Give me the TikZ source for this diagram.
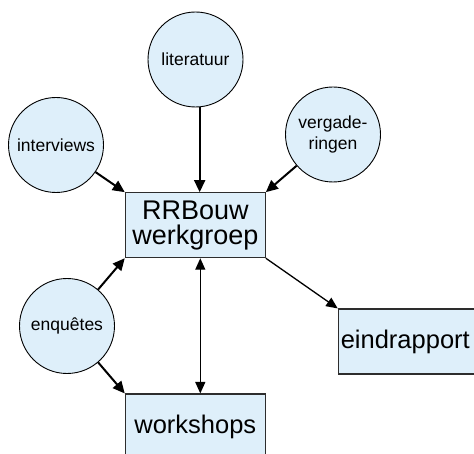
\documentclass[tikz,border=0pt]{standalone}
\usepackage{fontspec}
\setmainfont{Liberation Sans}
\usetikzlibrary{arrows.meta}

\definecolor{boxfill}{RGB}{222,239,250}
\definecolor{boxline}{RGB}{45,45,45}

\tikzset{
  source/.style={draw=black, line width=0.9pt, fill=boxfill, circle,
    minimum size=95pt, inner sep=0pt, align=center,
    font=\fontsize{17.5}{21}\selectfont},
  unit/.style={draw=boxline, line width=1.1pt, fill=boxfill,
    minimum width=140pt, minimum height=65pt, inner sep=0pt, align=center,
    font=\fontsize{25.5}{25}\selectfont},
  feed/.style={line width=2pt, -{Triangle[length=12pt,width=11pt]}},
  link/.style={line width=1.3pt, -{Triangle[length=11.5pt,width=10pt]}},
  twoway/.style={line width=1.3pt,
    {Triangle[length=11.5pt,width=10pt]}-{Triangle[length=11.5pt,width=10pt]}}
}

\begin{document}
\begin{tikzpicture}[x=1pt,y=-1pt]
\useasboundingbox (0,0) rectangle (474,454);
\clip (0,0) rectangle (474,454);

% Sources
\node [source] (lit) at (195.5,59.5) {literatuur};
\node [source] (int) at (56,145) {interviews};
\node [source] (verg) at (333,134.5) {vergade-\\ringen};
\node [source] (enq) at (67,326) {enquêtes};

% Working group
\node [unit,
    font=\fontsize{27}{25}\selectfont] (rr) at (195.3,225.2) {RRBouw\\werkgroep};

% Results
\node [unit] (eind) at (408.3,341.5) {\hspace*{-6pt}eindrapport};
\node [unit] (ws) at (195.3,426.5) {workshops};

% Connectors
\draw [feed] (lit.-85) -- (lit.-85 |- rr.north);
\draw [feed] (int) -- (rr.north west);
\draw [feed] (verg) -- (rr.north east);
\draw [feed] (enq) -- (rr.south west);
\draw [feed] (enq) -- (ws.north west);
\draw [twoway] ([xshift=5pt]rr.south) -- ([xshift=5pt]ws.north);
\draw [link] (rr.south east) -- (eind.north west);

\end{tikzpicture}
\end{document}
